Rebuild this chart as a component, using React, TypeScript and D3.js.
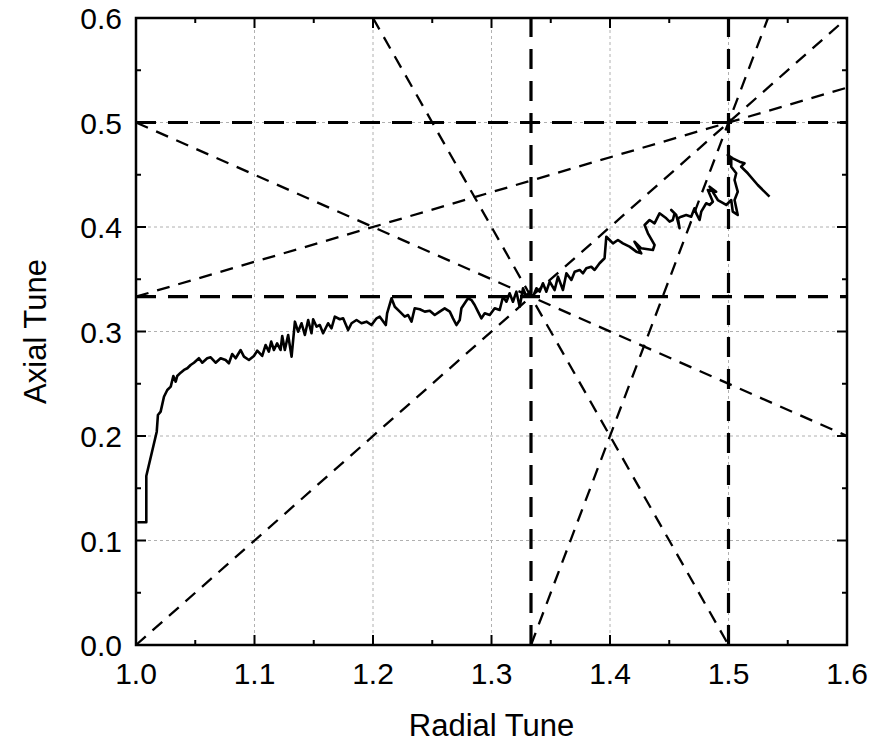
import React from "react";
import * as d3 from "d3";

const xTicks = [1.0, 1.1, 1.2, 1.3, 1.4, 1.5, 1.6];
const yTicks = [0.0, 0.1, 0.2, 0.3, 0.4, 0.5, 0.6];
const xTickLabels = ["1.0", "1.1", "1.2", "1.3", "1.4", "1.5", "1.6"];
const yTickLabels = ["0.0", "0.1", "0.2", "0.3", "0.4", "0.5", "0.6"];

// Resonance lines (thick): vertical & horizontal
const vLines = [4 / 3, 1.5];
const hLines = [0.5, 1 / 3];
// Slanted resonance lines, endpoints in data units
const resX1 = [1.0, 1.0, 1.0, 1.2, 4 / 3];
const resY1 = [0.0, 0.5, 1 / 3, 0.6, 0.0];
const resX2 = [1.6, 1.6, 1.6, 1.5, 1.6 / 3 + 1];
const resY2 = [0.6, 0.2, 1.6 / 3, 0.0, 0.6];

const tuneX = [
  1.0011, 1.0087, 1.0087, 1.0175, 1.0185, 1.0208, 1.0236, 1.0264, 1.0293, 1.0315,
  1.0335, 1.0348, 1.0377, 1.0405, 1.0433, 1.0461, 1.0489, 1.0531, 1.0559, 1.0601,
  1.063, 1.0672, 1.0714, 1.0756, 1.0784, 1.0812, 1.0841, 1.0883, 1.0911, 1.0953,
  1.0995, 1.1023, 1.1065, 1.1094, 1.1121, 1.1141, 1.1164, 1.1191, 1.122, 1.1234,
  1.1256, 1.1284, 1.1313, 1.1341, 1.1368, 1.1397, 1.1425, 1.1453, 1.1481, 1.1495,
  1.1524, 1.1551, 1.1579, 1.1621, 1.165, 1.1678, 1.172, 1.1748, 1.179, 1.1819,
  1.1861, 1.1903, 1.1945, 1.1987, 1.203, 1.2057, 1.2108, 1.2119, 1.2156, 1.2184,
  1.2226, 1.2268, 1.2296, 1.2325, 1.2352, 1.2395, 1.2437, 1.2479, 1.2521, 1.2563,
  1.2605, 1.2648, 1.2675, 1.2704, 1.2732, 1.2746, 1.2774, 1.2802, 1.2831, 1.2858,
  1.2886, 1.2915, 1.2943, 1.2985, 1.3027, 1.3069, 1.3097, 1.3126, 1.3153, 1.3181,
  1.321, 1.3238, 1.3266, 1.3294, 1.3322, 1.335, 1.3379, 1.3406, 1.3434, 1.3463,
  1.3491, 1.3533, 1.3561, 1.3603, 1.3632, 1.3674, 1.3702, 1.3744, 1.3772, 1.38,
  1.3842, 1.387, 1.3912, 1.3954, 1.3969, 1.3997, 1.4025, 1.4067, 1.4109, 1.4165,
  1.4222, 1.4264, 1.4207, 1.4264, 1.4362, 1.4376, 1.432, 1.4292, 1.4334, 1.4376,
  1.4418, 1.4475, 1.4503, 1.453, 1.4545, 1.4517, 1.4559, 1.4587, 1.4573, 1.4601,
  1.4643, 1.4685, 1.4713, 1.4728, 1.4756, 1.477, 1.4812, 1.484, 1.4868, 1.4826,
  1.4896, 1.484, 1.491, 1.4981, 1.5023, 1.5036, 1.5078, 1.5051, 1.5078, 1.5051,
  1.5065, 1.5023, 1.5023, 1.4994, 1.5036, 1.5093, 1.5135, 1.5107, 1.5163, 1.5247,
  1.5346,
];
const tuneY = [
  0.1174, 0.1174, 0.1617, 0.2041, 0.2201, 0.2233, 0.2376, 0.244, 0.2472, 0.2574,
  0.252, 0.2574, 0.2606, 0.2632, 0.2648, 0.2679, 0.2701, 0.2744, 0.2701, 0.2744,
  0.2753, 0.2701, 0.2744, 0.2727, 0.2696, 0.2785, 0.2744, 0.2823, 0.2759, 0.2727,
  0.2766, 0.2816, 0.2766, 0.2871, 0.2807, 0.2903, 0.2823, 0.2887, 0.2823, 0.2957,
  0.2823, 0.2967, 0.2759, 0.3094, 0.2998, 0.3079, 0.2967, 0.311, 0.2983, 0.3117,
  0.3046, 0.3062, 0.2983, 0.3079, 0.3031, 0.3142, 0.3117, 0.3126, 0.3014, 0.3079,
  0.311, 0.3079, 0.3094, 0.3062, 0.3126, 0.3142, 0.3062, 0.3174, 0.3318, 0.3237,
  0.319, 0.3142, 0.3158, 0.3094, 0.3222, 0.3213, 0.319, 0.3199, 0.3158, 0.319,
  0.3222, 0.319, 0.3126, 0.3062, 0.311, 0.3222, 0.327, 0.3318, 0.3301, 0.3254,
  0.319, 0.3126, 0.3174, 0.3158, 0.3222, 0.3206, 0.3333, 0.3285, 0.3366, 0.3285,
  0.3381, 0.3237, 0.3414, 0.3333, 0.3381, 0.3333, 0.3414, 0.3381, 0.3461, 0.3381,
  0.3477, 0.3397, 0.3525, 0.3397, 0.3557, 0.3493, 0.3572, 0.3589, 0.3557, 0.3605,
  0.362, 0.3589, 0.3653, 0.3701, 0.3907, 0.3876, 0.3844, 0.3876, 0.3844, 0.3812,
  0.3764, 0.3748, 0.3859, 0.3796, 0.378, 0.3828, 0.394, 0.4019, 0.4067, 0.4035,
  0.4131, 0.4083, 0.4051, 0.4067, 0.4131, 0.4163, 0.4115, 0.3988, 0.4083, 0.4099,
  0.4115, 0.4099, 0.4179, 0.4131, 0.4067, 0.4147, 0.4227, 0.4211, 0.4242, 0.4354,
  0.4338, 0.4386, 0.4258, 0.4211, 0.4258, 0.4147, 0.4115, 0.4258, 0.4338, 0.445,
  0.4514, 0.4577, 0.4641, 0.4689, 0.4657, 0.4625, 0.461, 0.4577, 0.4514, 0.4402,
  0.429,
];

const W = 892;
const H = 744;
const L = 136, R = 847, T = 18, B = 645;
const FONT = "'Liberation Sans', Arial, sans-serif";

export default function App() {
  const x = d3.scaleLinear().domain([1.0, 1.6]).range([L, R]);
  const y = d3.scaleLinear().domain([0, 0.6]).range([B, T]);
  const line = d3
    .line<number>()
    .x((_, i) => x(tuneX[i]))
    .y((_, i) => y(tuneY[i]));
  const minorX = d3.range(6).map((i) => 1.05 + i * 0.1);
  const minorY = d3.range(6).map((i) => 0.05 + i * 0.1);

  return (
    <svg
      width={W}
      height={H}
      style={{ position: "absolute", left: 0, top: 0, background: "#fff" }}
    >
      <rect x={0} y={0} width={W} height={H} fill="#fff" />
      {/* grid */}
      <g stroke="#b0b0b0" strokeWidth={1} strokeDasharray="3,3">
        {xTicks.slice(1, -1).map((t) => (
          <line key={"gx" + t} x1={x(t)} x2={x(t)} y1={T} y2={B} />
        ))}
        {yTicks.slice(1, -1).map((t) => (
          <line key={"gy" + t} x1={L} x2={R} y1={y(t)} y2={y(t)} />
        ))}
      </g>
      {/* slanted resonance lines */}
      <g stroke="#000" strokeWidth={2.3} strokeDasharray="13,9" fill="none">
        {resX1.map((_, i) => (
          <line
            key={"r" + i}
            x1={x(resX1[i])}
            y1={y(resY1[i])}
            x2={x(resX2[i])}
            y2={y(resY2[i])}
          />
        ))}
      </g>
      {/* thick resonance lines */}
      <g stroke="#000" strokeWidth={3.2} strokeDasharray="20,12" fill="none">
        {vLines.map((v) => (
          <line key={"v" + v} x1={x(v)} x2={x(v)} y1={B} y2={T} />
        ))}
        {hLines.map((h) => (
          <line key={"h" + h} x1={L} x2={R} y1={y(h)} y2={y(h)} />
        ))}
      </g>
      {/* tune curve */}
      <path
        d={line(tuneX) || ""}
        fill="none"
        stroke="#000"
        strokeWidth={2.6}
        strokeLinejoin="round"
      />
      {/* ticks */}
      <g stroke="#000" strokeWidth={2}>
        {xTicks.map((t) => (
          <g key={"tx" + t}>
            <line x1={x(t)} x2={x(t)} y1={B} y2={B - 10} />
            <line x1={x(t)} x2={x(t)} y1={T} y2={T + 10} />
          </g>
        ))}
        {minorX.map((t) => (
          <g key={"mx" + t}>
            <line x1={x(t)} x2={x(t)} y1={B} y2={B - 5} />
            <line x1={x(t)} x2={x(t)} y1={T} y2={T + 5} />
          </g>
        ))}
        {yTicks.map((t) => (
          <g key={"ty" + t}>
            <line x1={L} x2={L + 10} y1={y(t)} y2={y(t)} />
            <line x1={R} x2={R - 10} y1={y(t)} y2={y(t)} />
          </g>
        ))}
        {minorY.map((t) => (
          <g key={"my" + t}>
            <line x1={L} x2={L + 5} y1={y(t)} y2={y(t)} />
            <line x1={R} x2={R - 5} y1={y(t)} y2={y(t)} />
          </g>
        ))}
      </g>
      {/* frame */}
      <rect
        x={L}
        y={T}
        width={R - L}
        height={B - T}
        fill="none"
        stroke="#000"
        strokeWidth={2.5}
      />
      {/* tick labels */}
      <g fontFamily={FONT} fontSize={30} fill="#000">
        {xTicks.map((t, i) => (
          <text key={"lx" + t} x={x(t)} y={684} textAnchor="middle">
            {xTickLabels[i]}
          </text>
        ))}
        {yTicks.map((t, i) => (
          <text key={"ly" + t} x={122} y={y(t) + 11} textAnchor="end">
            {yTickLabels[i]}
          </text>
        ))}
      </g>
      {/* axis titles */}
      <text
        x={(L + R) / 2}
        y={736}
        textAnchor="middle"
        fontFamily={FONT}
        fontSize={31}
      >
        Radial Tune
      </text>
      <text
        transform={`translate(46, ${(T + B) / 2}) rotate(-90)`}
        textAnchor="middle"
        fontFamily={FONT}
        fontSize={31}
      >
        Axial Tune
      </text>
    </svg>
  );
}
